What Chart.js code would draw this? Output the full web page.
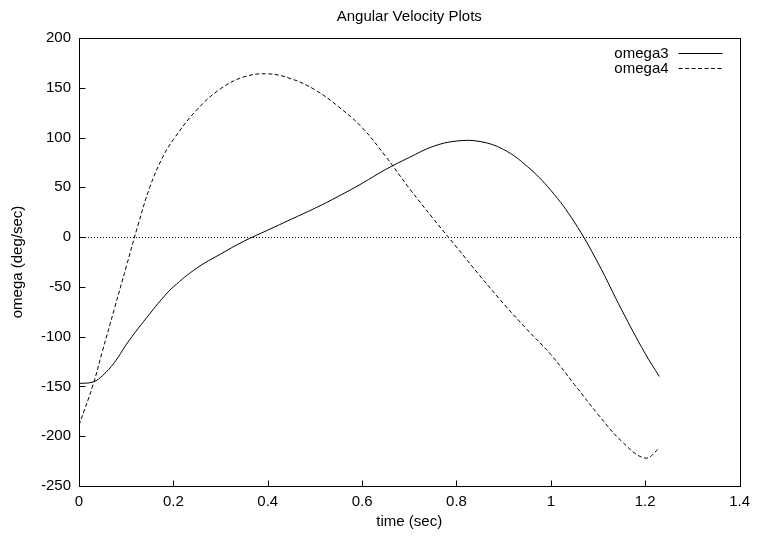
<!DOCTYPE html>
<html>
<head>
<meta charset="utf-8">
<script src="https://cdn.jsdelivr.net/npm/chart.js@4.4.0/dist/chart.umd.min.js"></script>
<style>
  html, body { margin: 0; padding: 0; background: #fff; }
  #wrap { width: 757px; height: 536px; }
</style>
</head>
<body>
<div id="wrap"><canvas id="omegaChart" width="757" height="536"></canvas></div>
<script>
// time samples (sec) and angular velocities (deg/sec)
const timeSec = [0, 0.03, 0.05, 0.075, 0.1, 0.125, 0.15, 0.175, 0.2, 0.25, 0.3, 0.35, 0.4, 0.45, 0.5, 0.55, 0.6,
  0.65, 0.7, 0.75, 0.8, 0.85, 0.9, 0.95, 1.0, 1.05, 1.1, 1.15, 1.2, 1.23];
const omega3 = [-147, -145.5, -139, -126, -108, -92, -77, -62.5, -50, -31, -17, -4, 7, 18, 29, 41, 54,
  68, 80, 91, 96.5, 96, 88, 71, 47, 15, -26, -73, -117, -140];
const omega4 = [-189, -148, -114, -72, -30, 12, 50, 78, 98, 128, 149, 161, 164, 159, 148, 131, 110,
  81, 49, 19, -10, -39, -67, -93, -118, -148, -178, -205, -222, -212];
const seriesNames = ['omega3', 'omega4'];
const xTicks = { min: 0, max: 1.4, step: 0.2 };
const yTicks = { min: -250, max: 200, step: 50 };

Chart.defaults.font.family = '"Liberation Sans", Arial, Helvetica, sans-serif';
Chart.defaults.font.size = 15;
Chart.defaults.color = '#000';

const toPoints = ys => timeSec.map((t, i) => ({ x: t, y: ys[i] }));

// frame, inward ticks, zero line, title and in-plot legend (gnuplot look)
const gnuplotDecor = {
  id: 'gnuplotDecor',
  beforeDatasetsDraw(chart) {
    const { ctx, chartArea: a, scales: { y } } = chart;
    ctx.save();
    ctx.strokeStyle = '#000';
    ctx.lineWidth = 1;
    const y0 = Math.round(y.getPixelForValue(0)) + 0.5;
    ctx.setLineDash([1, 2]);
    ctx.beginPath();
    ctx.moveTo(a.left, y0);
    ctx.lineTo(a.right, y0);
    ctx.stroke();
    ctx.restore();
  },
  afterDraw(chart) {
    const { ctx, chartArea: a, scales: { x, y } } = chart;
    ctx.save();
    ctx.strokeStyle = '#000';
    ctx.lineWidth = 1;
    const L = Math.round(a.left) + 0.5, R = Math.round(a.right) + 0.5;
    const T = Math.round(a.top) + 0.5, B = Math.round(a.bottom) + 0.5;
    ctx.strokeRect(L, T, R - L, B - T);
    ctx.beginPath();
    x.ticks.forEach(t => {
      const px = Math.round(x.getPixelForValue(t.value)) + 0.5;
      ctx.moveTo(px, B); ctx.lineTo(px, B - 6);
    });
    y.ticks.forEach(t => {
      const py = Math.round(y.getPixelForValue(t.value)) + 0.5;
      ctx.moveTo(L, py); ctx.lineTo(L + 6, py);
    });
    ctx.stroke();

    // title
    ctx.fillStyle = '#000';
    ctx.font = '15px "Liberation Sans", Arial, sans-serif';
    ctx.textAlign = 'center';
    ctx.textBaseline = 'alphabetic';
    ctx.fillText('Angular Velocity Plots', (a.left + a.right) / 2, 21);

    // legend
    ctx.textAlign = 'right';
    chart.data.datasets.forEach((ds, i) => {
      const base = 58 + i * 14.5;
      ctx.fillText(ds.label, a.right - 71, base);
      const ly = Math.round(base - 5) + 0.5;
      ctx.setLineDash(ds.borderDash || []);
      ctx.beginPath();
      ctx.moveTo(a.right - 61, ly);
      ctx.lineTo(a.right - 17, ly);
      ctx.stroke();
    });
    ctx.restore();
  }
};

new Chart(document.getElementById('omegaChart'), {
  type: 'line',
  data: {
    datasets: [{
      label: seriesNames[0],
      data: toPoints(omega3),
      borderColor: '#000',
      borderWidth: 1,
      pointRadius: 0,
      tension: 0.4,
      fill: false
    }, {
      label: seriesNames[1],
      data: toPoints(omega4),
      borderColor: '#000',
      borderWidth: 1,
      borderDash: [4, 2.5],
      pointRadius: 0,
      tension: 0.4,
      fill: false
    }]
  },
  options: {
    responsive: false,
    animation: false,
    events: [],
    layout: { padding: { top: 38, right: 12, left: 0, bottom: 0 } },
    scales: {
      x: {
        type: 'linear',
        min: xTicks.min,
        max: xTicks.max,
        afterFit: s => { s.height = 50; },
        grid: { display: false, drawTicks: false },
        border: { display: false },
        ticks: {
          stepSize: xTicks.step,
          padding: 7,
          maxRotation: 0,
          callback: v => String(Math.round(v * 10) / 10)
        },
        title: { display: true, text: 'time (sec)', padding: { top: 0, bottom: 5 } }
      },
      y: {
        min: yTicks.min,
        max: yTicks.max,
        afterFit: s => { s.width = 79; },
        grid: { display: false, drawTicks: false },
        border: { display: false },
        ticks: { stepSize: yTicks.step, padding: 8 },
        title: { display: true, text: 'omega (deg/sec)', padding: { top: 9, bottom: 0 } }
      }
    },
    plugins: {
      legend: { display: false },
      tooltip: { enabled: false }
    }
  },
  plugins: [gnuplotDecor]
});
</script>
</body>
</html>
